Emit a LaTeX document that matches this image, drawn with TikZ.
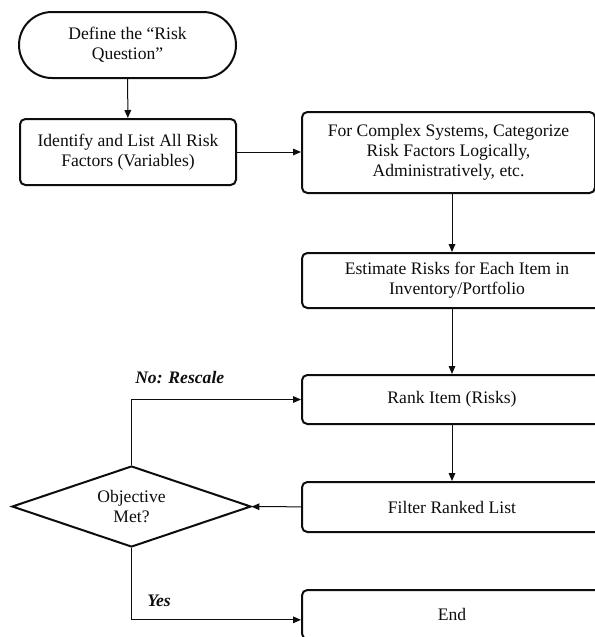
\documentclass[tikz,border=0pt]{standalone}
\usepackage{fontspec}
\setmainfont{Liberation Serif}
\usetikzlibrary{shapes.geometric, shapes.misc, arrows.meta}

\definecolor{cInk}{gray}{0.05}

\newdimen\pxu
\pxu=0.75pt

\begin{document}
\begin{tikzpicture}[x=0.75pt, y=-0.75pt,
    every node/.style={font=\fontsize{13.2}{15}\selectfont, text=cInk, align=center},
    stepbox/.style={draw=cInk, line width=1.5pt, rounded corners=4pt, inner sep=0pt},
    termbox/.style={draw=cInk, line width=1.5pt, rounded rectangle, inner sep=0pt},
    decision/.style={draw=cInk, line width=1.5pt, diamond, aspect=3, inner sep=0pt},
    flow/.style={draw=cInk, line width=0.75pt, -{Triangle[length=6pt, width=5pt]}},
    tag/.style={font=\fontsize{13.2}{15}\selectfont\bfseries\itshape, inner sep=0pt}]

\useasboundingbox (0,0) rectangle (595,637);
\clip (0,0) rectangle (595,637);

% ── Left column ──
\node[termbox, minimum width=217\pxu, minimum height=66\pxu] (define) at (127.5,45)
    {Define the “Risk\\Question”};
\node[stepbox, minimum width=216\pxu, minimum height=66\pxu] (identify) at (128,152)
    {Identify and List All Risk\\Factors (Variables)};

% ── Right column ──
\node[stepbox, minimum width=293\pxu, minimum height=81\pxu] (categorize) at (448.5,152.5)
    {For Complex Systems, Categorize\\Risk Factors Logically,\\Administratively, etc.};
\node[stepbox, minimum width=310\pxu, minimum height=55\pxu] (estimate) at (457,280.5)
    {Estimate Risks for Each Item in\\Inventory/Portfolio};
\node[stepbox, minimum width=300\pxu, minimum height=49\pxu] (rank) at (452,399.5)
    {Rank Item (Risks)};
\node[stepbox, minimum width=300\pxu, minimum height=50\pxu] (filter) at (452,507)
    {Filter Ranked List};
\node[stepbox, minimum width=300\pxu, minimum height=49\pxu] (finish) at (452,614.5)
    {End};

% ── Decision ──
\node[decision, minimum width=239\pxu, minimum height=81\pxu] (objective) at (131.5,506.5)
    {Objective\\Met?};

% ── Flow ──
\draw[flow] (define) -- (identify);
\draw[flow] (identify.east) -- (categorize.west |- identify.east);
\draw[flow] (categorize.south -| rank) -- (estimate.north -| rank);
\draw[flow] (estimate.south -| rank) -- (rank.north);
\draw[flow] (rank) -- (filter);
\draw[flow] (filter) -- (objective);
\draw[flow] (objective.north) |- (rank.west);
\draw[flow] (objective.south) |- ([yshift=-4pt]finish.west);

% ── Branch labels ──
\node[tag, anchor=base west] (noLabel) at (135,383) {No: Rescale};
\node[tag, anchor=base west] (yesLabel) at (147,606) {Yes};

\end{tikzpicture}
\end{document}
